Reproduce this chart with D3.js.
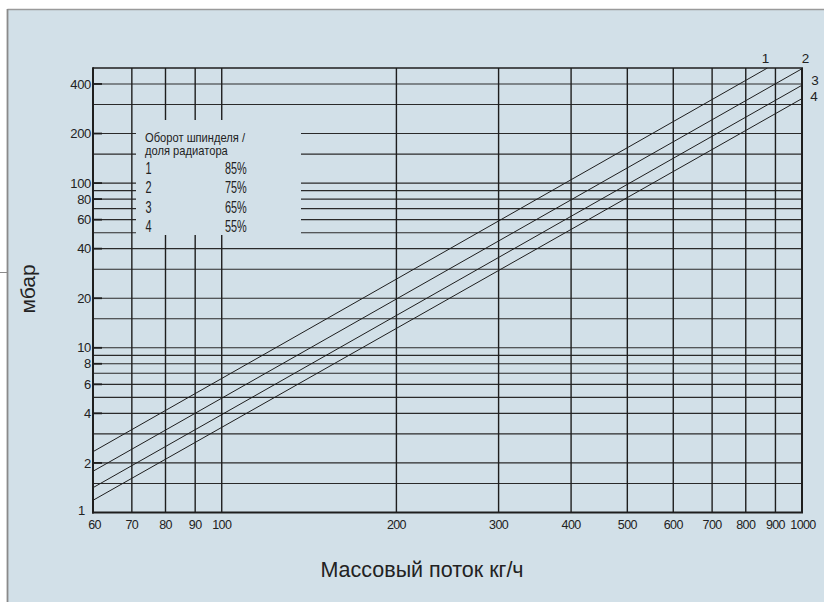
<!DOCTYPE html>
<html><head><meta charset="utf-8">
<script src="https://cdn.jsdelivr.net/npm/d3@7"></script>
<style>
html,body{margin:0;padding:0;background:#fff;}
svg{display:block;}
text{font-family:"Liberation Sans",Arial,sans-serif;fill:#222;}
</style></head>
<body>
<svg id="chart" width="824" height="602"></svg>
<script>
// ---- data ----
const xTickLabels = [60,70,80,90,100,200,300,400,500,600,700,800,900,1000];
const xGridValues = [70,80,90,100,200,300,400,500,600,700,800,900];
const yTickLabels = [1,2,4,6,8,10,20,40,60,80,100,200,400];
const yGridValues = [1.5,2,3,4,5,6,7,8,9,10,15,20,30,40,50,60,70,80,90,100,150,200,300,400];
const seriesNames = ["1","2","3","4"];
const seriesShares = ["85%","75%","65%","55%"];
const series1 = [[60,2.34],[872,500]];
const series2 = [[60,1.78],[1000,495]];
const series3 = [[60,1.415],[1000,393]];
const series4 = [[60,1.186],[1000,326]];
const legendTitle = ["Оборот шпинделя /","доля радиатора"];
const xTitle = "Массовый поток кг/ч";
const yTitle = "мбар";

// ---- layout ----
const bg = "#d2e0e8";
const L = 93, R = 802, T = 68, B = 512.5;
const svg = d3.select("#chart");

// panel
svg.append("rect").attr("x",8).attr("y",9.5).attr("width",816).attr("height",593).attr("fill",bg);
svg.append("line").attr("x1",7.5).attr("x2",824).attr("y1",9.5).attr("y2",9.5).attr("stroke","#9a9a9a").attr("stroke-width",1.5);
svg.append("line").attr("x1",7.5).attr("x2",7.5).attr("y1",9).attr("y2",602).attr("stroke","#8a8a8a").attr("stroke-width",1.8);
svg.append("line").attr("x1",0).attr("x2",7).attr("y1",272.5).attr("y2",272.5).attr("stroke","#8a8a8a").attr("stroke-width",1);

const x = d3.scaleLog().domain([60,1000]).range([L,R]);
const y = d3.scaleLog().domain([1,500]).range([B,T]);

const g = svg.append("g");
// horizontal gridlines
g.selectAll("line.hg").data(yGridValues).join("line").attr("class","hg")
  .attr("x1",L).attr("x2",R).attr("y1",d=>y(d)).attr("y2",d=>y(d))
  .attr("stroke","#2a2a2a").attr("stroke-width",1.1);
// vertical gridlines
g.selectAll("line.vg").data(xGridValues).join("line").attr("class","vg")
  .attr("x1",d=>x(d)).attr("x2",d=>x(d)).attr("y1",T).attr("y2",B)
  .attr("stroke","#1e1e1e").attr("stroke-width",1.4);

// legend mask
g.append("rect").attr("x",136).attr("y",120).attr("width",165).attr("height",115).attr("fill",bg);

// series lines
const clip = svg.append("clipPath").attr("id","plotclip");
clip.append("rect").attr("x",L).attr("y",T).attr("width",R-L).attr("height",B-T);
const line = d3.line().x(d=>x(d[0])).y(d=>y(d[1]));
[series1,series2,series3,series4].forEach(s=>{
  g.append("path").datum(s).attr("d",line).attr("fill","none")
   .attr("stroke","#1e1e1e").attr("stroke-width",1).attr("clip-path","url(#plotclip)");
});

// frame
g.append("line").attr("x1",L).attr("x2",R+1).attr("y1",T).attr("y2",T).attr("stroke","#1e1e1e").attr("stroke-width",1.6);
g.append("line").attr("x1",R).attr("x2",R).attr("y1",T).attr("y2",B).attr("stroke","#1e1e1e").attr("stroke-width",2);
g.append("line").attr("x1",L).attr("x2",L).attr("y1",T-0.8).attr("y2",B+1).attr("stroke","#1e1e1e").attr("stroke-width",2);
g.append("line").attr("x1",L-1).attr("x2",R+1).attr("y1",B).attr("y2",B).attr("stroke","#1e1e1e").attr("stroke-width",2);

// y ticks + labels
g.selectAll("line.yt").data(yTickLabels.filter(d=>d>1)).join("line").attr("class","yt")
  .attr("x1",L).attr("x2",L+9).attr("y1",d=>y(d)).attr("y2",d=>y(d))
  .attr("stroke","#1e1e1e").attr("stroke-width",1.8);
g.selectAll("text.yl").data(yTickLabels).join("text").attr("class","yl")
  .attr("x",d=>d===1?L-8:L-2).attr("y",d=>y(d)-(d===1?2:0)).attr("dy","0.36em").attr("text-anchor","end")
  .attr("font-size",13).attr("letter-spacing",-0.3).text(d=>d);

// x labels
g.selectAll("text.xl").data(xTickLabels).join("text").attr("class","xl")
  .attr("x",d=>x(d)+(d===1000?1:0)+(d===60?1.5:0)).attr("y",528.5).attr("text-anchor","middle")
  .attr("font-size",12.5).attr("letter-spacing",-0.6).text(d=>d);

// series labels at the ends
const endLabels = [[765.5,62.5],[805.5,62.5],[815,85],[814,101]];
seriesNames.forEach((n,i)=>{
  g.append("text").attr("x",endLabels[i][0]).attr("y",endLabels[i][1]).attr("text-anchor","middle")
   .attr("font-size",13.5).text(n);
});

// legend text
legendTitle.forEach((t,i)=>{
  g.append("text").attr("transform",`translate(145,${141.7+i*13.4}) scale(0.93,1)`)
   .attr("font-size",12).text(t);
});
seriesNames.forEach((n,i)=>{
  const by = 174 + i*19.35;
  g.append("text").attr("transform",`translate(145.5,${by}) scale(0.64,1)`)
   .attr("font-size",17).text(n);
  g.append("text").attr("transform",`translate(246.7,${by}) scale(0.64,1)`)
   .attr("font-size",17).attr("text-anchor","end").text(seriesShares[i]);
});

// axis titles
svg.append("text").attr("x",422).attr("y",577).attr("text-anchor","middle")
  .attr("font-size",21.5).text(xTitle);
svg.append("text").attr("transform","translate(35,289) rotate(-90)").attr("text-anchor","middle")
  .attr("font-size",21).text(yTitle);
</script>
</body></html>
